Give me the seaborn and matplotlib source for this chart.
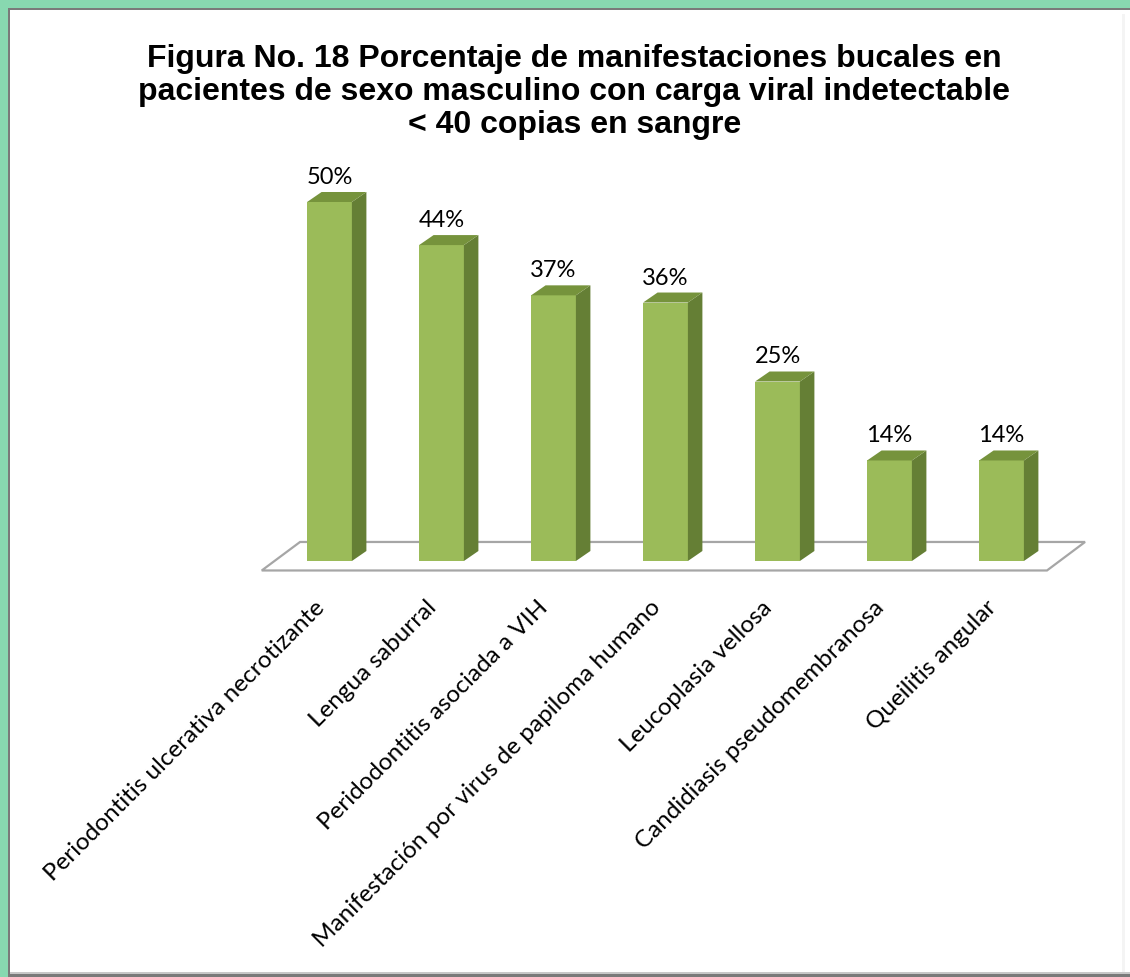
import matplotlib
matplotlib.use("Agg")
import matplotlib.pyplot as plt
import matplotlib.transforms as mtransforms
from matplotlib.patches import Polygon, Rectangle
import seaborn as sns
import pandas as pd

# Data
categorias = [
    "Periodontitis ulcerativa necrotizante",
    "Lengua saburral",
    "Peridodontitis asociada a VIH",
    "Manifestación por virus de papiloma humano",
    "Leucoplasia vellosa",
    "Candidiasis pseudomembranosa",
    "Queilitis angular",
]
porcentajes = [50, 44, 37, 36, 25, 14, 14]
etiquetas = ["50%", "44%", "37%", "36%", "25%", "14%", "14%"]

titulo = ("Figura No. 18 Porcentaje de manifestaciones bucales en\n"
          "pacientes de sexo masculino con carga viral indetectable\n"
          "< 40 copias en sangre")

df = pd.DataFrame({"categoria": categorias, "porcentaje": porcentajes})

# Colours
FRONT = "#9BBB59"
SIDE = "#657F35"
TOP = "#76933C"
FRAME_GREEN = "#88D8B0"

sns.set_theme(style="white")
plt.rcParams["font.family"] = ["Lato", "DejaVu Sans"]

W, H, DPI = 1130, 978, 100
fig = plt.figure(figsize=(W / DPI, H / DPI), dpi=DPI)
fig.patch.set_facecolor("white")

# Page frame: green strip on top/left with a grey inner edge
fig.patches.append(Rectangle((0, 0), 1, 1, transform=fig.transFigure,
                             facecolor=FRAME_GREEN, edgecolor="none", zorder=-10))
fig.patches.append(Rectangle((8 / W, 0), 1, 1 - 9 / H, transform=fig.transFigure,
                             facecolor="#7A7A7A", edgecolor="none", zorder=-9))
fig.patches.append(Rectangle((10 / W, 3 / H), 1, 1 - 14 / H, transform=fig.transFigure,
                             facecolor="white", edgecolor="none", zorder=-8))
fig.patches.append(Rectangle((10 / W, 3 / H), 1, 2 / H, transform=fig.transFigure,
                             facecolor="#C8C8C8", edgecolor="none", zorder=-7))
fig.patches.append(Rectangle(((W - 8) / W, 5 / H), 3 / W, 1 - 20 / H, transform=fig.transFigure,
                             facecolor="#F4F4F4", edgecolor="none", zorder=-7))

# Plot area in pixels
ax_l, ax_r, ax_t, ax_b = 250, 1100, 150, 600
ax = fig.add_axes([ax_l / W, (H - ax_b) / H, (ax_r - ax_l) / W, (ax_b - ax_t) / H])
ax.set_facecolor("none")

x0_px, step_px = 329.5, 112.0
y0_px, unit_px = 562.0, 7.18

# 3-D depth offset in data units
dx = 14.5 / step_px
dy = 10.0 / unit_px

sns.barplot(data=df, x="categoria", y="porcentaje", color=FRONT, width=0.40,
            saturation=1, ax=ax, zorder=3, edgecolor="none")
bars = list(ax.containers[0])

ax.set_xlim((ax_l - x0_px) / step_px, (ax_r - x0_px) / step_px)
ax.set_ylim((y0_px - ax_b) / unit_px, (y0_px - ax_t) / unit_px)

# Floor plate under the bars
n = len(categorias)
floor_front, floor_back = -1.32, 2.65
floor = Polygon([(-0.605, floor_front), (-0.263, floor_back),
                 (n - 1 + 0.5 + 0.246, floor_back), (n - 1 + 0.5 - 0.094, floor_front)],
                closed=True, facecolor="white", edgecolor="#A6A6A6", lw=1.6, zorder=1,
                clip_on=False)
ax.add_patch(floor)

for bar, label in zip(bars, etiquetas):
    x1 = bar.get_x()
    w = bar.get_width()
    h = bar.get_height()
    x2 = x1 + w
    side = Polygon([(x2, 0), (x2 + dx, dy), (x2 + dx, h + dy), (x2, h)],
                   closed=True, facecolor=SIDE, edgecolor="none", zorder=3)
    top = Polygon([(x1, h), (x1 + dx, h + dy), (x2 + dx, h + dy), (x2, h)],
                  closed=True, facecolor=TOP, edgecolor="none", zorder=3)
    ax.add_patch(side)
    ax.add_patch(top)
    ax.text(x1 + w / 2, h + 19 / unit_px, label, ha="center", va="baseline",
            fontsize=17, color="black", zorder=5)

sns.despine(ax=ax, left=True, bottom=True)
ax.set_yticks([])
ax.set_xlabel("")
ax.set_ylabel("")
ax.tick_params(axis="x", length=0, pad=0)
ax.set_xticks(range(n))
ax.set_xticklabels(categorias, rotation=45, ha="right", va="top",
                   rotation_mode="anchor", fontsize=17.5, color="black")
shift = mtransforms.ScaledTranslation(-16 / DPI, 3 / DPI, fig.dpi_scale_trans)
for lbl in ax.get_xticklabels():
    lbl.set_transform(lbl.get_transform() + shift)

fig.text(574.5 / W, 1 - 133 / H, titulo, ha="center", va="baseline", fontsize=23,
         fontweight="bold", color="black", family=["Liberation Sans", "DejaVu Sans"],
         linespacing=1.13)

fig.savefig("out.png", dpi=DPI)
